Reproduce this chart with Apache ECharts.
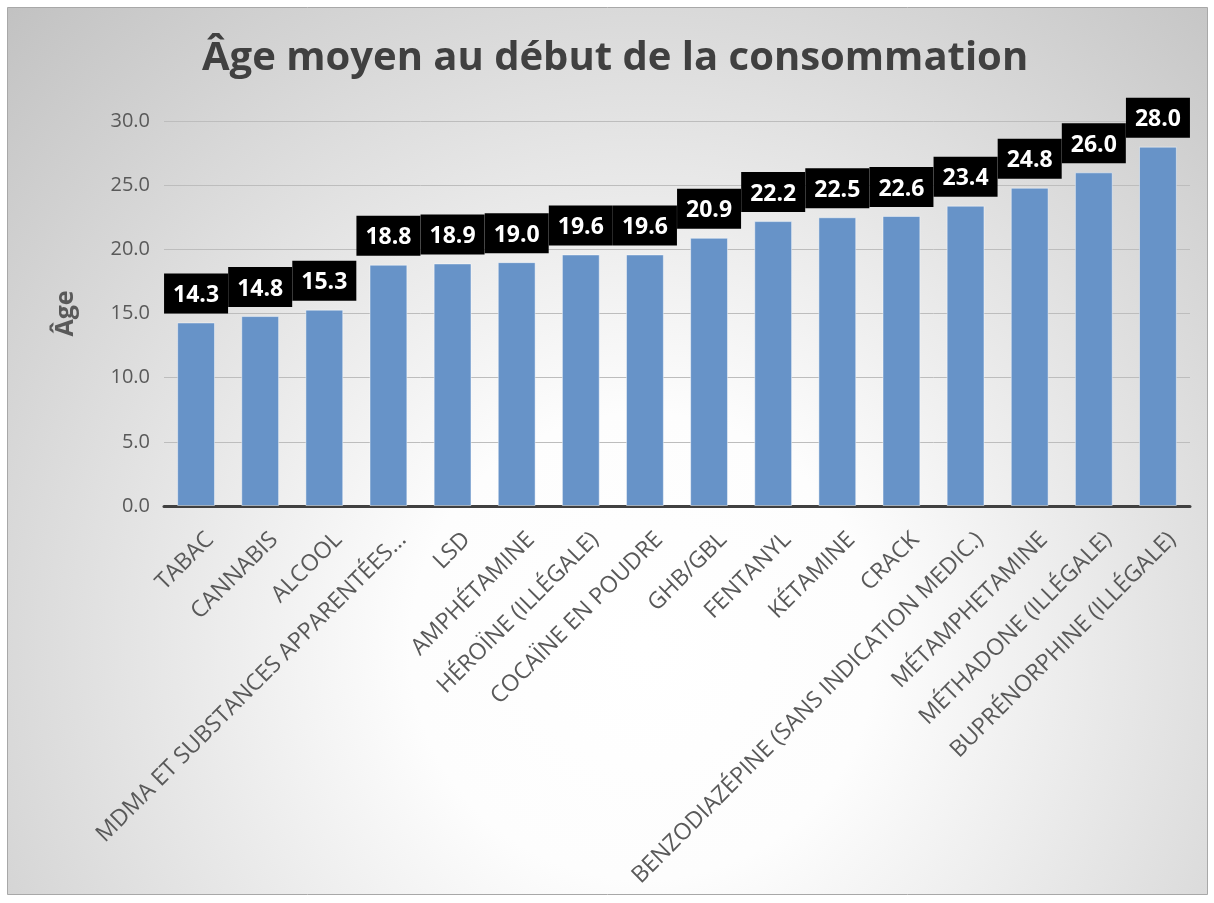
<!DOCTYPE html>
<html>
<head>
<meta charset="utf-8">
<script src="https://cdn.jsdelivr.net/npm/echarts@6/dist/echarts.min.js"></script>
<style>
  html, body { margin: 0; padding: 0; background: #fff; }
  #chart { width: 1214px; height: 903px; }
</style>
</head>
<body>
<div id="chart"></div>
<script>
// données
var titre = 'Âge moyen au début de la consommation';
var nomAxeY = 'Âge';
var substances = [
  'TABAC', 'CANNABIS', 'ALCOOL', 'MDMA ET SUBSTANCES APPARENTÉES...', 'LSD',
  'AMPHÉTAMINE', 'HÉROÏNE (ILLÉGALE)', 'COCAÏNE EN POUDRE', 'GHB/GBL', 'FENTANYL',
  'KÉTAMINE', 'CRACK', 'BENZODIAZÉPINE (SANS INDICATION MEDIC.)', 'MÉTAMPHETAMINE',
  'MÉTHADONE (ILLÉGALE)', 'BUPRÉNORPHINE (ILLÉGALE)'
];
var ageMoyen = [14.3, 14.8, 15.3, 18.8, 18.9, 19.0, 19.6, 19.6, 20.9, 22.2, 22.5, 22.6, 23.4, 24.8, 26.0, 28.0];
var axeY = { min: 0, max: 30, interval: 5 };

var myChart = echarts.init(document.getElementById('chart'));
var police = '"Open Sans", "DejaVu Sans", sans-serif';

var option = {
  animation: false,
  graphic: [{
    type: 'rect',
    z: -10,
    silent: true,
    shape: { x: 7.5, y: 7.5, width: 1200, height: 887 },
    style: {
      fill: {
        type: 'radial', x: 0.53, y: 0.72, r: 1.05,
        colorStops: [
          { offset: 0, color: '#ffffff' },
          { offset: 0.25, color: '#fdfdfd' },
          { offset: 1, color: '#bfbfbf' }
        ]
      },
      stroke: '#a8a8a8',
      lineWidth: 1
    }
  }],
  title: {
    text: titre,
    left: 197,
    top: 34,
    textStyle: { fontFamily: police, fontSize: 40, fontWeight: 'bold', color: '#404040' }
  },
  grid: { left: 164, right: 24, top: 121, bottom: 397 },
  xAxis: {
    type: 'category',
    data: substances,
    axisLine: { lineStyle: { color: '#404040', width: 3 } },
    axisTick: { show: false },
    axisLabel: {
      interval: 0,
      rotate: 45,
      margin: 16,
      verticalAlign: 'top',
      lineHeight: 40,
      fontFamily: police,
      fontSize: 23,
      color: '#595959'
    }
  },
  yAxis: {
    type: 'value',
    min: axeY.min,
    max: axeY.max,
    interval: axeY.interval,
    name: nomAxeY,
    nameLocation: 'middle',
    nameRotate: 90,
    nameGap: 86,
    nameTextStyle: { fontFamily: police, fontSize: 25, fontWeight: 'bold', color: '#595959' },
    axisLine: { show: false },
    axisTick: { show: false },
    axisLabel: {
      margin: 14,
      fontFamily: police,
      fontSize: 20,
      color: '#595959',
      formatter: function (v) { return v.toFixed(1); }
    },
    splitLine: { lineStyle: { color: '#bdbdbd', width: 1 } }
  },
  series: [{
    type: 'bar',
    data: ageMoyen,
    barWidth: '59%',
    itemStyle: { color: '#6793c8', borderColor: 'rgba(255,255,255,0.45)', borderWidth: 1 },
    label: {
      show: true,
      position: 'top',
      distance: 9,
      backgroundColor: '#000',
      padding: [10, 9, 6, 9],
      lineHeight: 24,
      fontFamily: police,
      fontSize: 23,
      fontWeight: 'bold',
      color: '#fff',
      formatter: function (p) { return p.value.toFixed(1); }
    }
  }]
};

myChart.setOption(option);
</script>
</body>
</html>
